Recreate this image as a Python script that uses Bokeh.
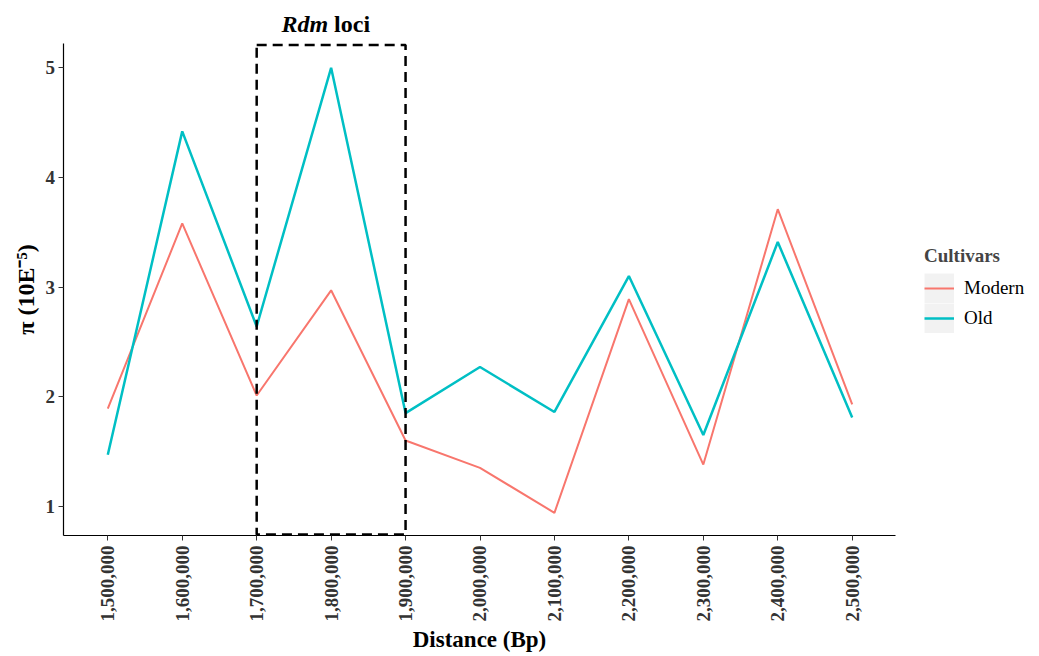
import math
from bokeh.plotting import figure
from bokeh.models import (Range1d, FixedTicker, NumeralTickFormatter, Legend,
                          LegendItem, Label, ColumnDataSource)
from bokeh.embed import file_html
from bokeh.resources import INLINE

# ---- data ----
positions = [1500000, 1600000, 1700000, 1800000, 1900000, 2000000,
             2100000, 2200000, 2300000, 2400000, 2500000]
modern = [1.89, 3.58, 2.01, 2.97, 1.60, 1.35, 0.94, 2.89, 1.38, 3.71, 1.93]
old = [1.47, 4.42, 2.64, 5.00, 1.85, 2.27, 1.86, 3.10, 1.65, 3.41, 1.81]
y_ticks = [1, 2, 3, 4, 5]
rdm_start, rdm_end = 1700000, 1900000

SERIF = "Liberation Serif"
RED = "#F8766D"
CYAN = "#00BFC4"

# panel (axis) extents
X0, X1 = 1441000, 2558000
Y0, Y1 = 0.733, 5.219
# full canvas extents in data units (frame covers the whole canvas)
CX0, CX1 = 1355857, 2751612
CY0, CY1 = -0.371, 5.614

W, H = 1039, 656
p = figure(width=W, height=H, output_backend="svg", toolbar_location=None,
           x_range=Range1d(CX0, CX1), y_range=Range1d(CY0, CY1),
           min_border=0)
p.outline_line_color = None
p.grid.visible = False
p.background_fill_color = "white"
p.border_fill_color = "white"

src = ColumnDataSource(dict(x=positions, modern=modern, old=old))

r_mod = p.line("x", "modern", source=src, line_color=RED, line_width=2)
r_old = p.line("x", "old", source=src, line_color=CYAN, line_width=2.5)

# Rdm loci dashed box
p.quad(left=[rdm_start], right=[rdm_end], bottom=[Y0 + 0.01], top=[Y1 - 0.01],
       fill_color=None, line_color="black", line_width=2.5, line_dash="10 6")

# legend key backgrounds (grey95)
bg1 = p.line([0, 1], [-10, -10], line_color="#F2F2F2", line_width=30, line_cap="butt")
bg2 = p.line([0, 1], [-10, -10], line_color="#F2F2F2", line_width=30, line_cap="butt")

legend = Legend(items=[LegendItem(label="Modern", renderers=[bg1, r_mod]),
                       LegendItem(label="Old", renderers=[bg2, r_old])],
                location=(924, 323), title="Cultivars",
                title_text_font=SERIF, title_text_font_style="bold",
                title_text_font_size="19px", title_standoff=6,
                label_text_font=SERIF, label_text_font_size="19px",
                label_text_color="black",
                glyph_width=30, glyph_height=30, label_standoff=10,
                spacing=0, padding=0, margin=0,
                border_line_color=None, background_fill_alpha=0)
p.add_layout(legend, "center")

# axes, pinned at the panel edges and bounded to the panel extents
xa = p.xaxis[0]
xa.fixed_location = Y0
xa.bounds = (X0, X1)
xa.ticker = FixedTicker(ticks=positions)
xa.formatter = NumeralTickFormatter(format="0,0")
xa.major_label_orientation = math.pi / 2
xa.axis_label = "Distance (Bp)"
ya = p.yaxis[0]
ya.fixed_location = X0
ya.bounds = (Y0, Y1)
ya.ticker = FixedTicker(ticks=y_ticks)
ya.axis_label = "\u03c0 (10E\u207b\u2075)"

for ax in (xa, ya):
    ax.axis_line_color = "black"
    ax.axis_line_width = 1.2
    ax.major_tick_line_color = "#333333"
    ax.major_tick_out = 5
    ax.major_tick_in = 0
    ax.minor_tick_line_color = None
    ax.major_label_text_font = SERIF
    ax.major_label_text_font_style = "bold"
    ax.major_label_text_font_size = "19px"
    ax.major_label_text_color = "#333333"
    ax.axis_label_text_font = SERIF
    ax.axis_label_text_font_style = "bold"
    ax.axis_label_text_color = "black"
xa.major_label_standoff = 5
ya.major_label_standoff = 4
xa.axis_label_text_font_size = "23px"
ya.axis_label_text_font_size = "24px"
xa.axis_label_standoff = 2
ya.axis_label_standoff = 3

# title over the box (screen y measured up from the frame bottom)
for txt, style, align, off in (("Rdm", "bold italic", "right", -3),
                               ("loci", "bold", "left", 3)):
    p.add_layout(Label(x=(rdm_start + rdm_end) / 2, y=633, y_units="screen",
                       x_offset=off, text=txt, text_align=align,
                       text_baseline="alphabetic", text_font=SERIF,
                       text_font_style=style, text_font_size="24px",
                       text_color="black"))

open("out.html", "w").write(file_html(p, INLINE))
